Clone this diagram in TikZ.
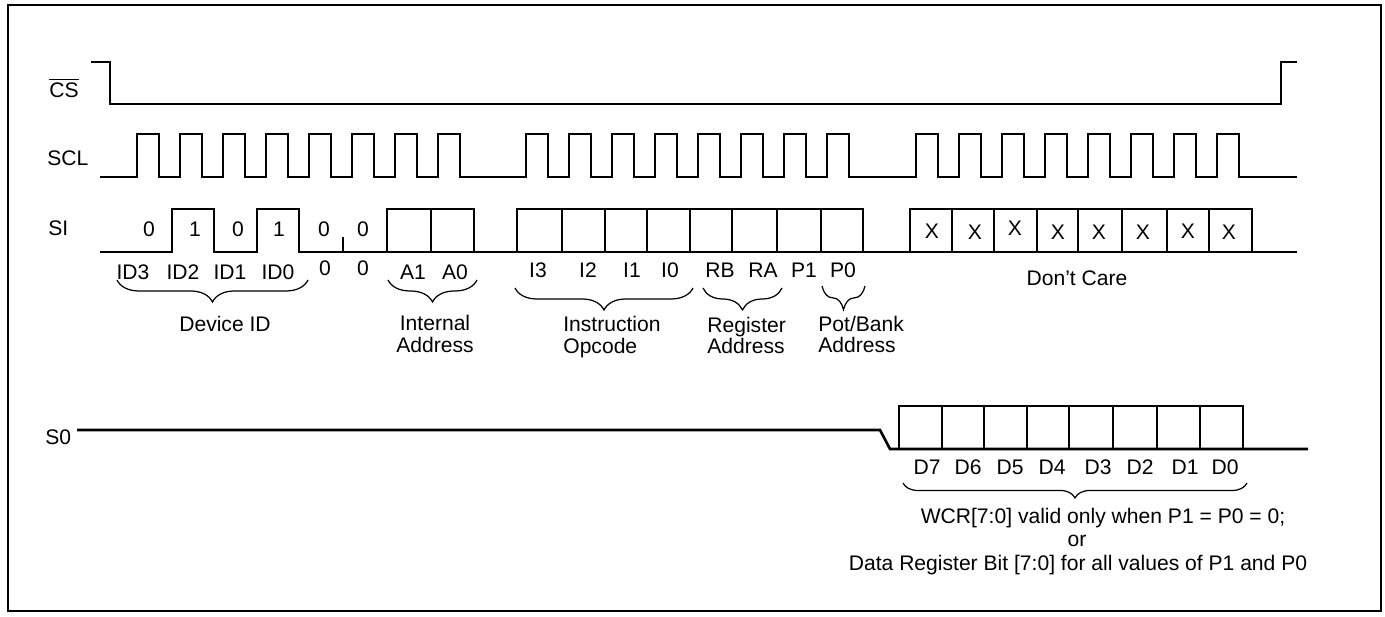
\documentclass[tikz,border=0pt]{standalone}
\usepackage{fontspec}
\setmainfont{Liberation Sans}
\usetikzlibrary{decorations.pathreplacing,positioning}

\begin{document}
\begin{tikzpicture}[x=0.02cm,y=-0.02cm,
  sig/.style={line width=1.5pt},
  brc/.style={line width=0.7pt,decorate,decoration={brace,mirror,amplitude=#1}},
  brc/.default=12.5pt,
  lbl/.style={font=\fontsize{12}{13}\selectfont,inner sep=0pt}]
\useasboundingbox (0,0) rectangle (1385,616);
\draw [line width=0.9pt] (8,5) rectangle (1381,611);
% signal names
\node [lbl,anchor=west] (cs) at (49,88) {$\overline{\mbox{CS}}$};
\node [lbl,anchor=west] (scl) at (47,158) {SCL};
\node [lbl,anchor=west] (si) at (48,228) {SI};
\node [lbl,anchor=west] (so) at (45,437) {S0};
% CS and SCL
\draw [sig] (91,62) -- (110,62) -- (110,104) -- (1281,104) -- (1281,62) -- (1297,62);
\draw [sig] (100,177) \foreach \r in {137,180,...,438,526,569,...,827,916,959,...,1217} {
  -- (\r,177) -- (\r,134) -- (\r+22,134) -- (\r+22,177)} -- (1297,177);
% SI
\draw [sig] (100,252) -- (172,252) -- (172,209) -- (214,209) -- (214,252) -- (257,252)
  -- (257,209) -- (299,209) -- (299,252) -- (1297,252);
\draw [sig] (343,237) -- (343,252);
\draw [sig] (387,252) -- (387,209) -- (474,209) -- (474,252);
\draw [sig] (431,209) -- (431,252);
\draw [sig] (517,252) -- (517,209) -- (863,209) -- (863,252);
\foreach \x in {562,605,647,690,732,777,821}
  \draw [sig] (\x,209) -- (\x,252);
\draw [sig] (910,252) -- (910,209) -- (1252,209) -- (1252,252);
\foreach \x in {952,994,1037,1078,1122,1167,1209}
  \draw [sig] (\x,209) -- (\x,252);
\foreach \x/\v [count=\i] in {149/0,195/1,238/0,279/1,324/0,363/0}
  \node [lbl] (val\i) at (\x,229) {\v};
\foreach \x/\y [count=\i] in {932/231,975/232,1015/228,1058/232,1099/232,1143/232,1188/231,1229/232}
  \node [lbl] (dc\i) at (\x,\y) {X};
\foreach \x/\t [count=\i] in {133/ID3,183/ID2,230/ID1,278/ID0,413/A1,455/A0}
  \node [lbl] (fa\i) at (\x,272) {\t};
\node [lbl] (za) at (325,268) {0};
\node [lbl] (zb) at (363,268) {0};
\foreach \x/\t [count=\i] in {538/I3,588/I2,632/I1,670/I0,720/RB,763/RA,804/P1,843/P0}
  \node [lbl] (fb\i) at (\x,270) {\t};
\node [lbl] (care) at (1077,278) {Don’t Care};
% braces
\draw [brc] (117,280) -- (308,280);
\draw [brc] (388,280) -- (477,280);
\draw [brc] (515,288) -- (693,288);
\draw [brc] (703,288) -- (782,288);
\draw [brc=13.5pt] (822,286) -- (865,286);
\node [lbl] (devid) at (225,324) {Device ID};
\node [lbl,align=center] (intaddr) at (435,334) {Internal\\Address};
\node [lbl,align=left,anchor=west] (opc) at (563,337) {Instruction\\Opcode};
\node [lbl,align=left,anchor=west] (regaddr) at (707,335) {Register\\[-1pt]Address};
\node [lbl,align=left,anchor=west] (potaddr) at (818,334) {Pot/Bank\\[-1pt]Address};
% S0
\draw [sig] (77,430) -- (880,430) -- (890,449) -- (1308,449);
\draw [sig] (899,449) -- (899,406) -- (1243,406) -- (1243,449);
\foreach \x in {942,984,1027,1069,1113,1157,1200}
  \draw [sig] (\x,406) -- (\x,449);
\foreach \x/\t [count=\i] in {927/D7,968/D6,1010/D5,1052/D4,1098/D3,1140/D2,1185/D1,1225/D0}
  \node [lbl] (d\i) at (\x,467) {\t};
\draw [brc=8.5pt] (903,483) -- (1247,483);
\node [lbl] (wcr) at (1103,518) {WCR[7:0] valid only when P1 = P0 = 0;};
\node [lbl] (alt) at (1077,541) {or};
\node [lbl] (dreg) at (1078,565) {Data Register Bit [7:0] for all values of P1 and P0};
\end{tikzpicture}
\end{document}
